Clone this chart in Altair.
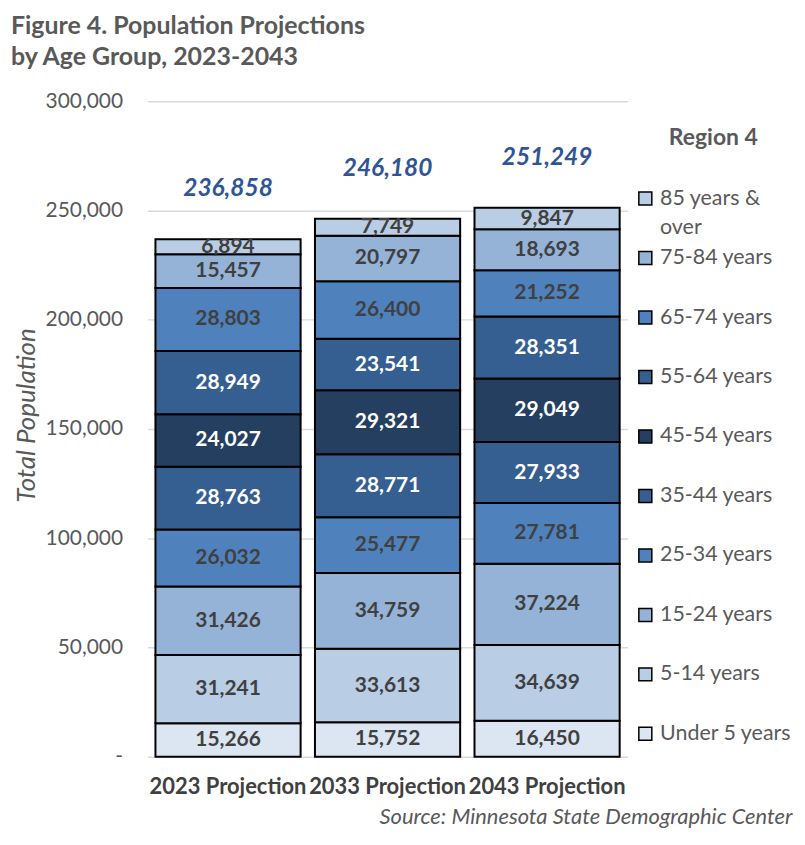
import altair as alt
import pandas as pd

years = ["2023 Projection", "2033 Projection", "2043 Projection"]
ages = ["Under 5 years", "5-14 years", "15-24 years", "25-34 years", "35-44 years",
        "45-54 years", "55-64 years", "65-74 years", "75-84 years", "85 years & over"]
v2023 = [15266, 31241, 31426, 26032, 28763, 24027, 28949, 28803, 15457, 6894]
v2033 = [15752, 33613, 34759, 25477, 28771, 29321, 23541, 26400, 20797, 7749]
v2043 = [16450, 34639, 37224, 27781, 27933, 29049, 28351, 21252, 18693, 9847]
totals = [236858, 246180, 251249]
colors = ["#dce6f2", "#b9cde5", "#95b3d7", "#4f81bd", "#365f91",
          "#243f60", "#365f91", "#4f81bd", "#95b3d7", "#b9cde5"]
white_label_ages = ["35-44 years", "45-54 years", "55-64 years"]

rows = []
for y, vals in zip(years, [v2023, v2033, v2043]):
    for i, (a, v) in enumerate(zip(ages, vals)):
        rows.append({"year": y, "age": a, "value": v, "idx": i})
df = pd.DataFrame(rows)
tot_df = pd.DataFrame({"year": years, "total": totals})

FONT = "Lato"
GREY = "#595959"
DARK = "#404040"

xenc = alt.X("year:N", sort=years,
             scale=alt.Scale(paddingInner=0.09, paddingOuter=0.05),
             axis=alt.Axis(title="Source: Minnesota State Demographic Center",
                           titleFont=FONT, titleFontSize=22, titleFontStyle="italic",
                           titleFontWeight="normal", titleColor=GREY,
                           titleAnchor="end", titleAlign="right", titleX=647, titleY=60,
                           titleBaseline="middle",
                           labelAngle=0, labelFont=FONT, labelFontSize=22,
                           labelFontWeight="bold", labelColor=DARK, labelPadding=20,
                           domain=False, ticks=False))

yscale = alt.Scale(domain=[0, 300000])

bars = alt.Chart(df).mark_bar(stroke="black", strokeWidth=2).encode(
    x=xenc,
    y=alt.Y("value:Q", stack="zero", scale=yscale,
            axis=alt.Axis(title="Total Population", titleFont=FONT, titleFontSize=26,
                          titleFontStyle="italic", titleFontWeight="normal",
                          titleColor=GREY, titleX=-121, titleY=315,
                          titleBaseline="middle", titleAngle=270,
                          values=[0, 50000, 100000, 150000, 200000, 250000, 300000],
                          labelExpr="datum.value == 0 ? '-\u00a0\u00a0\u00a0' : format(datum.value, ',')",
                          labelFont=FONT, labelFontSize=21, labelColor=GREY,
                          labelPadding=25, domain=False, ticks=False,
                          gridColor="#d9d9d9", gridWidth=1.5)),
    color=alt.Color("age:N",
                    scale=alt.Scale(domain=ages[::-1], range=colors[::-1]),
                    legend=alt.Legend(title="Region 4", orient="none",
                                      legendX=489, legendY=26,
                                      labelExpr="datum.label == '85 years & over' ? ['85 years &', 'over'] : datum.label")),
    order=alt.Order("idx:Q", sort="ascending"),
)

labels = alt.Chart(df).transform_window(
    cum="sum(value)", sort=[alt.SortField("idx", order="ascending")], groupby=["year"],
    frame=[None, 0]
).transform_calculate(
    mid="datum.cum - datum.value / 2"
).mark_text(font=FONT, fontSize=21, fontWeight="bold", baseline="middle", align="center").encode(
    x=alt.X("year:N", sort=years),
    y=alt.Y("mid:Q", scale=yscale),
    text=alt.Text("value:Q", format=","),
    color=alt.condition(alt.FieldOneOfPredicate(field="age", oneOf=white_label_ages),
                        alt.value("white"), alt.value(DARK)),
)

tot = alt.Chart(tot_df).mark_text(font=FONT, fontSize=24.5, fontWeight="bold",
                                  fontStyle="italic", color="#2f5597", dy=-50,
                                  baseline="middle").encode(
    x=alt.X("year:N", sort=years),
    y=alt.Y("total:Q", scale=yscale),
    text=alt.Text("total:Q", format=","),
)

chart = alt.layer(bars, labels, tot).properties(
    width=482, height=658,
    padding={"left": 3, "top": 5, "right": 5, "bottom": 0},
    title=alt.TitleParams(text=["Figure 4. Population Projections", "by Age Group, 2023-2043"],
                          anchor="start", font=FONT, fontSize=25, fontWeight="bold",
                          color=GREY, lineHeight=31, offset=20, dx=-3),
).configure_view(stroke=None).configure_legend(
    titleFont=FONT, titleFontSize=23, titleFontWeight="bold", titleColor=GREY,
    titlePadding=38, titleAnchor="middle",
    labelFont=FONT, labelFontSize=21.5, labelColor=GREY, labelLimit=300, labelOffset=4,
    symbolType="square", symbolSize=170, symbolStrokeColor="black", symbolStrokeWidth=1.5,
    symbolOpacity=1, rowPadding=6.7, gridAlign="all",
)
chart.config.style = {"guide-label": {"lineHeight": 30}}

chart.save("out.html", embed_options={"renderer": "svg", "actions": False})
